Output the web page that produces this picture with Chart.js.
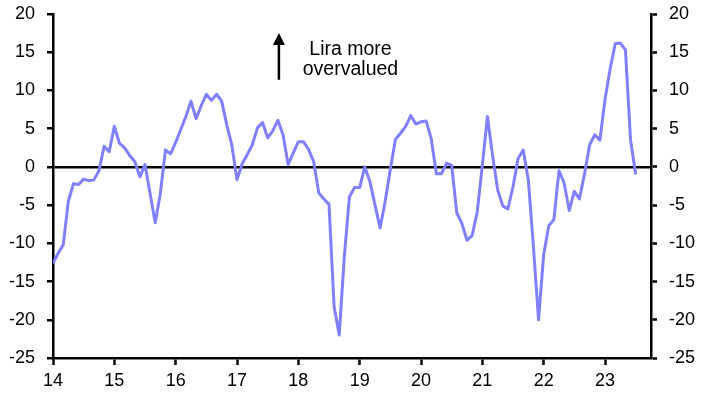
<!DOCTYPE html>
<html>
<head>
<meta charset="utf-8">
<script src="https://cdn.jsdelivr.net/npm/chart.js@4/dist/chart.umd.min.js"></script>
<style>
  body { margin: 0; background: #fff; }
  #wrap { width: 707px; height: 395px; }
</style>
</head>
<body>
<div id="wrap"><canvas id="myChart" width="707" height="395"></canvas></div>
<script>
// year tick labels, one tick per January
var yearLabels = ['14', '15', '16', '17', '18', '19', '20', '21', '22', '23'];

// monthly values, Jan 2014 - Jul 2023 (% deviation)
var v2014 = [-12.6, -11.3, -10.2, -4.5, -2.2, -2.3, -1.6, -1.8, -1.7, -0.5, 2.7, 2.0];
var v2015 = [5.3, 3.1, 2.5, 1.5, 0.7, -1.3, 0.3, -3.5, -7.3, -3.5, 2.2, 1.7];
var v2016 = [3.2, 4.9, 6.6, 8.6, 6.3, 8.0, 9.5, 8.7, 9.5, 8.6, 5.5, 2.8];
var v2017 = [-1.7, 0.4, 1.6, 2.9, 5.1, 5.8, 3.8, 4.7, 6.1, 4.2, 0.3, 1.8];
var v2018 = [3.3, 3.3, 2.3, 0.7, -3.4, -4.2, -4.9, -18.3, -22.0, -11.7, -3.9, -2.7];
var v2019 = [-2.7, 0.0, -1.9, -5.0, -8.0, -4.5, -0.3, 3.6, 4.4, 5.3, 6.7, 5.6];
var v2020 = [5.9, 6.0, 3.7, -0.9, -0.9, 0.5, 0.2, -6.0, -7.4, -9.6, -9.0, -5.9];
var v2021 = [0.2, 6.6, 1.5, -3.0, -5.1, -5.5, -2.6, 1.1, 2.2, -1.7, -10.5, -20.0];
var v2022 = [-11.5, -7.7, -6.9, -0.5, -2.1, -5.7, -3.2, -4.2, -0.9, 2.9, 4.2, 3.5];
var v2023 = [8.8, 12.8, 16.1, 16.2, 15.3, 3.5, -1.0];

var values = [].concat(v2014, v2015, v2016, v2017, v2018, v2019, v2020, v2021, v2022, v2023);
var points = values.map(function (v, i) { return { x: i, y: v }; });

var FONT = { family: "'Liberation Sans', Arial, sans-serif", size: 18 };

// arrow + text label, placed in data units
var annotation = {
    id: 'annotation',
    afterDraw: function (chart) {
        var ctx = chart.ctx;
        var xs = chart.scales.x, ys = chart.scales.y;
        var ax = xs.getPixelForValue(44.2);
        var top = ys.getPixelForValue(17.5);
        var bottom = ys.getPixelForValue(11.4);
        ctx.save();
        ctx.strokeStyle = '#000';
        ctx.fillStyle = '#000';
        ctx.lineWidth = 2.5;
        ctx.beginPath();
        ctx.moveTo(ax, bottom);
        ctx.lineTo(ax, top + 8);
        ctx.stroke();
        ctx.beginPath();
        ctx.moveTo(ax, top);
        ctx.lineTo(ax - 6, top + 12);
        ctx.lineTo(ax + 6, top + 12);
        ctx.closePath();
        ctx.fill();
        ctx.font = '19.5px ' + FONT.family;
        ctx.textAlign = 'center';
        ctx.textBaseline = 'alphabetic';
        var tx = xs.getPixelForValue(58.2);
        ctx.fillText('Lira more', tx, ys.getPixelForValue(14.6));
        ctx.fillText('overvalued', tx, ys.getPixelForValue(12.0));
        ctx.restore();
    }
};

function fitY(width) {
    return function (scale) {
        scale.width = width;
        scale.paddingTop = 0;
        scale.paddingBottom = 0;
    };
}

var ctx = document.getElementById('myChart').getContext('2d');
var chart = new Chart(ctx, {
    type: 'line',
    data: {
        datasets: [{
            data: points,
            borderColor: 'rgb(128,128,255)',
            borderWidth: 3,
            borderJoinStyle: 'round',
            pointRadius: 0,
            tension: 0,
            fill: false,
            yAxisID: 'y'
        }]
    },
    options: {
        responsive: false,
        animation: false,
        devicePixelRatio: 1,
        layout: { padding: { top: 14, left: 0, right: 0, bottom: 0 } },
        plugins: { legend: { display: false }, tooltip: { enabled: false } },
        scales: {
            x: {
                type: 'linear',
                min: 0,
                max: 117,
                afterBuildTicks: function (scale) {
                    scale.ticks = yearLabels.map(function (l, i) { return { value: i * 12 }; });
                },
                afterFit: function (scale) { scale.height = 37; },
                ticks: {
                    color: '#000',
                    font: FONT,
                    padding: 5,
                    maxRotation: 0,
                    autoSkip: false,
                    callback: function (v) { return yearLabels[v / 12]; }
                },
                grid: { drawOnChartArea: false, tickLength: 7, tickColor: '#000', tickWidth: 2.5 },
                border: { display: true, color: '#000', width: 2.5 }
            },
            y: {
                position: 'left',
                min: -25,
                max: 20,
                afterFit: fitY(53),
                ticks: { stepSize: 5, color: '#000', font: FONT, padding: 12 },
                grid: {
                    drawOnChartArea: true,
                    color: function (c) { return c.tick && c.tick.value === 0 ? '#000' : 'rgba(0,0,0,0)'; },
                    lineWidth: 2.5,
                    tickLength: 6,
                    tickColor: '#000',
                    tickWidth: 2.5
                },
                border: { display: true, color: '#000', width: 2.5 }
            },
            y2: {
                position: 'right',
                min: -25,
                max: 20,
                afterFit: fitY(56),
                ticks: { stepSize: 5, color: '#000', font: FONT, padding: 12 },
                grid: { drawOnChartArea: false, tickLength: 6, tickColor: '#000', tickWidth: 2.5 },
                border: { display: true, color: '#000', width: 2.5 }
            }
        }
    },
    plugins: [annotation]
});
</script>
</body>
</html>
